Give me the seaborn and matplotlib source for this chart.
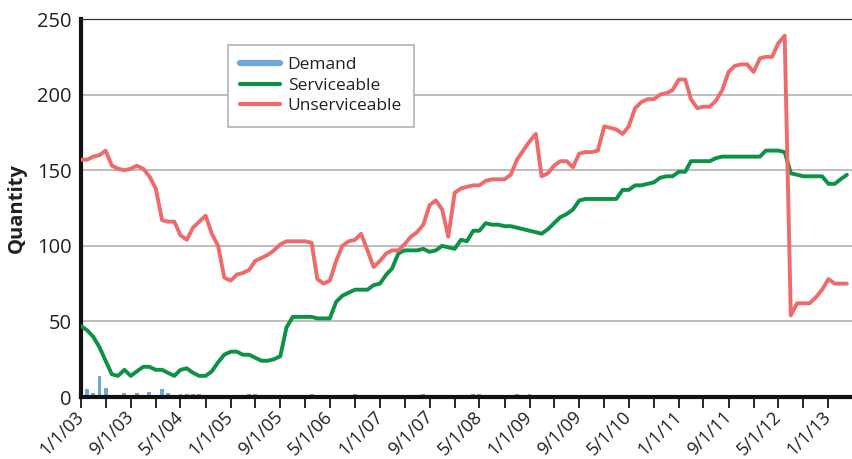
import matplotlib
matplotlib.use("Agg")
import matplotlib.pyplot as plt
import matplotlib.dates as mdates
from matplotlib.lines import Line2D
import pandas as pd
import seaborn as sns

# monthly series, Jan 2003 .. Apr 2013
months = pd.date_range("2003-01-01", periods=124, freq="MS")

demand = [
    3.5, 5, 2.5, 14, 6, 0, 0, 2.5, 0, 2.5,
    0, 3.5, 0, 5, 2.5, 0, 2, 2, 2, 2,
    0, 0, 0, 0, 0, 0, 0, 2, 2, 0,
    0, 0, 0, 0, 0, 0, 0, 2, 0, 0,
    0, 0, 0, 0, 2, 0, 0, 0, 0, 0,
    0, 0, 0, 0, 0, 2, 0, 0, 0, 0,
    0, 0, 0, 2, 2, 0, 0, 0, 0, 0,
    2, 0, 2, 0, 0, 0, 0, 0, 0, 0,
    0, 0, 0, 0, 0, 0, 0, 0, 0, 0,
    0, 0, 0, 0, 0, 0, 0, 0, 0, 0,
    0, 0, 0, 0, 0, 0, 0, 0, 0, 0,
    0, 0, 0, 0, 0, 0, 0, 0, 0, 0,
    0, 0, 0, 0,
]

serviceable = [
    47, 44, 40, 33, 24, 15, 14, 18, 14, 17,
    20, 20, 18, 18, 16, 14, 18, 19, 16, 14,
    14, 17, 23, 28, 30, 30, 28, 28, 26, 24,
    24, 25, 27, 46, 53, 53, 53, 53, 52, 52,
    52, 63, 67, 69, 71, 71, 71, 74, 75, 81,
    85, 95, 97, 97, 97, 98, 96, 97, 100, 99,
    98, 104, 103, 110, 110, 115, 114, 114, 113, 113,
    112, 111, 110, 109, 108, 111, 115, 119, 121, 124,
    130, 131, 131, 131, 131, 131, 131, 137, 137, 140,
    140, 141, 142, 145, 146, 146, 149, 149, 156, 156,
    156, 156, 158, 159, 159, 159, 159, 159, 159, 159,
    163, 163, 163, 162, 148, 147, 146, 146, 146, 146,
    141, 141, 144, 147,
]

unserviceable = [
    157, 157, 159, 160, 163, 153, 151, 150, 151, 153,
    151, 146, 138, 117, 116, 116, 107, 104, 112, 116,
    120, 108, 100, 79, 77, 81, 82, 84, 90, 92,
    94, 97, 101, 103, 103, 103, 103, 102, 78, 75,
    77, 90, 100, 103, 104, 108, 97, 86, 90, 95,
    97, 97, 101, 106, 109, 114, 127, 130, 124, 106,
    135, 138, 139, 140, 140, 143, 144, 144, 144, 147,
    157, 163, 169, 174, 146, 148, 153, 156, 156, 152,
    161, 162, 162, 163, 179, 178, 177, 174, 179, 191,
    195, 197, 197, 200, 201, 203, 210, 210, 197, 191,
    192, 192, 196, 203, 215, 219, 220, 220, 215, 224,
    225, 225, 234, 239, 54, 62, 62, 62, 66, 71,
    78, 75, 75, 75,
]

tick_labels = ["1/1/03", "9/1/03", "5/1/04", "1/1/05", "9/1/05", "5/1/06",
               "1/1/07", "9/1/07", "5/1/08", "1/1/09", "9/1/09", "5/1/10",
               "1/1/11", "9/1/11", "5/1/12", "1/1/13"]

COLORS = {"demand": "#6fa7d7", "serviceable": "#0d9146", "unserviceable": "#ef6a6a"}
TEXT = "#231f20"

sns.set_style("white")
plt.rcParams["font.family"] = ["Open Sans", "DejaVu Sans"]

df = pd.DataFrame({"month": months, "Demand": demand,
                   "Serviceable": serviceable, "Unserviceable": unserviceable})

fig = plt.figure(figsize=(8.53, 4.59), dpi=100)
ax = fig.add_axes([0.095, 0.135, 0.905, 0.8235])

sns.lineplot(data=df, x="month", y="Serviceable", color=COLORS["serviceable"],
             lw=2.8, ax=ax, zorder=3)
sns.lineplot(data=df, x="month", y="Unserviceable", color=COLORS["unserviceable"],
             lw=2.8, ax=ax, zorder=4)
# demand bars, ~19 days wide
ax.bar(mdates.date2num(df["month"]), df["Demand"], width=19.0,
       color=COLORS["demand"], linewidth=0, zorder=2)

# axes
ax.set_xlim(months[0], months[-1])
ax.set_ylim(0, 250)
ax.set_yticks(range(0, 251, 50))
ax.yaxis.grid(True, color="#ababab", lw=1.1)
ax.set_axisbelow(True)

tick_dates = pd.to_datetime(tick_labels, format="%m/%d/%y")
ax.set_xticks(tick_dates)
ax.set_xticklabels(tick_labels, rotation=45, ha="right", va="center",
                   rotation_mode="anchor")
ax.set_xticks([d + pd.DateOffset(months=4) for d in tick_dates], minor=True)
ax.tick_params(axis="x", which="both", bottom=True, direction="out", length=8,
               width=1.2, color="black", labelsize=13, labelcolor=TEXT, pad=4)
ax.tick_params(axis="y", length=0, pad=7, labelsize=14.5, labelcolor=TEXT)

ax.set_xlabel("")
ax.set_ylabel("Quantity", fontsize=14.5, fontweight="bold", color=TEXT)
ax.yaxis.set_label_coords(-0.07, 0.5)

for s in ["left", "bottom"]:
    ax.spines[s].set_linewidth(3)
    ax.spines[s].set_color("#111111")
ax.spines["top"].set_linewidth(0.9)
ax.spines["top"].set_color("#333333")
ax.spines["right"].set_visible(False)

handles = [Line2D([], [], color=COLORS["demand"], lw=4.5),
           Line2D([], [], color=COLORS["serviceable"], lw=3),
           Line2D([], [], color=COLORS["unserviceable"], lw=3)]
leg = ax.legend(handles, ["Demand", "Serviceable", "Unserviceable"],
                loc="upper left", bbox_to_anchor=(0.19, 0.931), borderaxespad=0,
                frameon=True, fancybox=False, framealpha=1, edgecolor="#b3b3b3",
                fontsize=12.5, handlelength=2.3, handletextpad=0.45,
                labelspacing=0.25, borderpad=0.7)
leg.get_frame().set_linewidth(1.2)
for t in leg.get_texts():
    t.set_color(TEXT)

fig.savefig("out.png", dpi=100)
